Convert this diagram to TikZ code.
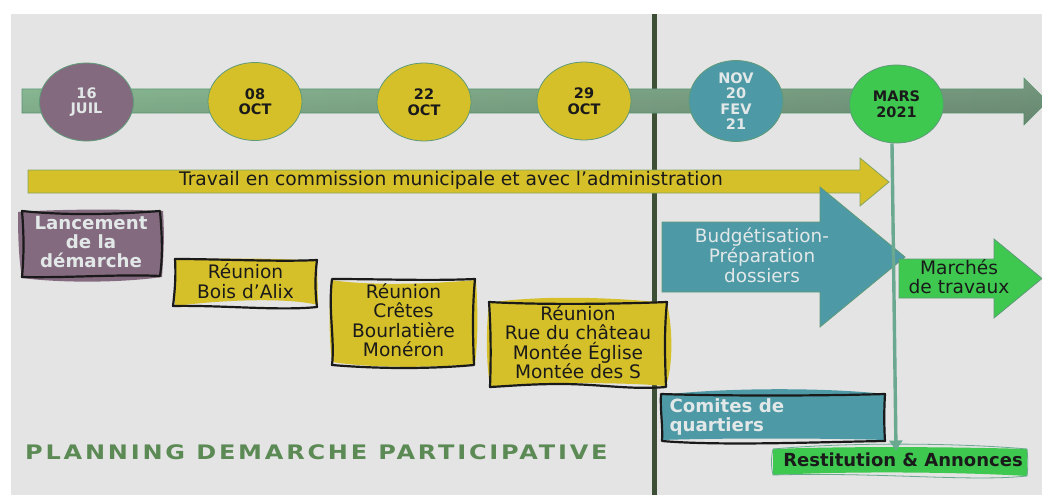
\documentclass[tikz,border=0pt]{standalone}
\usepackage{fontspec}
\setmainfont{DejaVu Sans}
\newfontfamily\titlefont[LetterSpace=14,FakeStretch=1.2]{DejaVu Sans}
\usetikzlibrary{arrows.meta,shapes.geometric,fadings}
\definecolor{bgc}{HTML}{E4E4E4}
\definecolor{mauve}{HTML}{846A7E}
\definecolor{yel}{HTML}{D6C02A}
\definecolor{teal2}{HTML}{4E99A6}
\definecolor{grn}{HTML}{3EC850}
\definecolor{edgec}{HTML}{5F9A78}
\definecolor{darkl}{HTML}{3D4F35}
\definecolor{connc}{HTML}{6AA88F}
\definecolor{lighttxt}{HTML}{E2E8E8}
\definecolor{darktxt}{HTML}{1A1A1A}
\definecolor{titlec}{HTML}{5B8A55}
\definecolor{barl}{HTML}{8CBC96}
\definecolor{barr}{HTML}{76997F}
\tikzset{
  datecirc/.style={ellipse,draw=edgec,line width=0.8pt,minimum width=94pt,minimum height=78pt,inner sep=0pt,align=center,font=\fontsize{14.5}{15.5}\selectfont\bfseries},
  sketch/.style={draw=darktxt,line width=2.2pt,line join=round,fill=none},
  boxtxt/.style={align=center,text=darktxt,font=\fontsize{18.6}{19.5}\selectfont},
  lightbold/.style={align=center,text=lighttxt,font=\fontsize{18.2}{19.2}\selectfont\bfseries},
}
\begin{document}
\begin{tikzpicture}[x=1pt,y=-1pt]
\useasboundingbox (0,0) rectangle (1042,495);
\fill[white] (0,0) rectangle (1042,495);
\fill[bgc] (11,14) rectangle (1042,495);
% divider
\fill[darkl] (652,14) rectangle (657,495);
% timeline
\path[left color=barl,right color=barr,draw=edgec,line width=0.6pt]
  (22,89) -- (1024,89) -- (1024,78) -- (1042,96) -- (1042,107) -- (1024,125) -- (1024,113) -- (22,113) -- cycle;
\fill[black,fill opacity=0.12,path fading=north]
  (22,89) -- (1024,89) -- (1024,78) -- (1042,96) -- (1042,107) -- (1024,125) -- (1024,113) -- (22,113) -- cycle;
% dates
\node[datecirc,fill=mauve,text=lighttxt] (d1) at (86.5,102) {16\\JUIL};
\node[datecirc,fill=yel,text=darktxt] (d2) at (255,101.5) {08\\OCT};
\node[datecirc,fill=yel,text=darktxt] (d3) at (424,102) {22\\OCT};
\node[datecirc,fill=yel,text=darktxt] (d4) at (584,101) {29\\OCT};
\node[datecirc,fill=teal2,text=lighttxt] (d5) at (736,101) {NOV\\20\\FEV\\21};
\node[datecirc,fill=grn,text=darktxt] (mars) at (896.5,104) {MARS\\2021};
% commission arrow
\fill[yel,draw=edgec!70!yel,line width=0.8pt]
  (28,170) -- (860,170) -- (860,158) -- (889,182) -- (860,206) -- (860,193) -- (28,193) -- cycle;
\node[text=darktxt,font=\fontsize{18.7}{19}\selectfont] (travail) at (451,180) {Travail en commission municipale et avec l’administration};
% budget arrow
\fill[teal2,draw=edgec,line width=0.8pt]
  (662,222) -- (820,222) -- (820,187) -- (905,257) -- (820,327) -- (820,292) -- (662,292) -- cycle;
\node[align=center,text=lighttxt,font=\fontsize{18.4}{20}\selectfont] (budget) at (762,255) {Budgétisation-\\Préparation\\dossiers};
% marches arrow
\fill[grn,draw=edgec,line width=0.8pt]
  (899,259) -- (994,259) -- (994,239) -- (1042,278.5) -- (994,318) -- (994,298) -- (899,298) -- cycle;
\node[boxtxt] (marches) at (959,276.5) {Marchés\\de travaux};
% Lancement
\fill[mauve] (18,212) .. controls (60,209) and (120,209) .. (163,211) .. controls (165,240) and (163,260) .. (162,277) .. controls (120,283) and (60,283) .. (22,278) .. controls (19,260) and (18,240) .. (18,212) -- cycle;
\draw[sketch] (22,211) .. controls (70,216) and (120,214) .. (160,211) .. controls (162,235) and (163,255) .. (160,276) .. controls (120,274) and (70,278) .. (22,277) .. controls (24,255) and (24,235) .. (22,211) -- cycle;
\node[lightbold] (lanc) at (91,242) {Lancement\\de la\\démarche};
% Bois
\fill[yel] (175,260) .. controls (220,258) and (280,258) .. (317,261) -- (318,305) .. controls (290,298) and (230,299) .. (175,306) -- cycle;
\draw[sketch] (175,259) .. controls (220,259) and (280,262) .. (317,260) .. controls (315,275) and (315,292) .. (317,307) .. controls (280,311) and (220,305) .. (173,306) .. controls (175,290) and (176,275) .. (175,259) -- cycle;
\node[boxtxt] (bois) at (245.5,281) {Réunion\\Bois d’Alix};
% Cretes
\fill[yel] (331,280) .. controls (370,286) and (430,284) .. (476,280) .. controls (478,310) and (478,340) .. (475,364) .. controls (430,368) and (370,368) .. (332,362) .. controls (329,340) and (329,310) .. (331,280) -- cycle;
\draw[sketch] (332,279) .. controls (380,279) and (430,281) .. (475,279) .. controls (472,310) and (473,340) .. (474,365) .. controls (430,369) and (380,369) .. (332,365) .. controls (335,340) and (328,310) .. (332,279) -- cycle;
\node[boxtxt] (cretes) at (403.5,320) {Réunion\\Crêtes\\Bourlatière\\Monéron};
% Rue
\fill[yel] (489,303) .. controls (530,296) and (600,296) .. (667,303) .. controls (673,330) and (673,365) .. (666,386) .. controls (620,382) and (540,382) .. (490,387) .. controls (486,360) and (486,330) .. (489,303) -- cycle;
\draw[sketch] (489,302) .. controls (540,305) and (620,304) .. (667,302) .. controls (664,330) and (665,360) .. (666,387) .. controls (630,390) and (600,384) .. (560,384) .. controls (530,384) and (510,386) .. (490,387) .. controls (491,360) and (491,330) .. (489,302) -- cycle;
\node[boxtxt] (rue) at (578,342) {Réunion\\Rue du château\\Montée Église\\Montée des S};
% Comites
\fill[teal2] (661,395) .. controls (720,388) and (820,387) .. (885,394) -- (885,440) .. controls (820,438) and (720,438) .. (661,440) -- cycle;
\draw[sketch] (661,394) .. controls (720,396) and (820,396) .. (885,394) .. controls (884,410) and (884,425) .. (885,441) .. controls (820,442) and (720,446) .. (662,441) .. controls (663,425) and (660,410) .. (661,394) -- cycle;
\node[lightbold,align=left,anchor=west] (comites) at (666,417) {Comites de\\quartiers};
% Restitution
\fill[grn] (773,449) .. controls (850,446) and (960,447) .. (1027,449) -- (1027,476) .. controls (960,472) and (850,471) .. (773,475) -- cycle;
\draw[connc,line width=0.8pt] (773,449) .. controls (850,442) and (960,443) .. (1027,449) .. controls (1028,458) and (1028,468) .. (1027,476) .. controls (970,482) and (880,472) .. (773,475) .. controls (771,466) and (771,458) .. (773,449) -- cycle;
\node[text=darktxt,font=\fontsize{18}{18}\selectfont\bfseries] (restit) at (903,460) {Restitution \& Annonces};
% connector
\draw[connc,line width=3.4pt,-{Triangle[length=10pt,width=13pt]}] ([xshift=-4.5pt]mars.south) -- ([xshift=-7pt,yshift=-1pt]restit.north);
% title
\node[anchor=west,inner sep=0pt,text=titlec,font=\titlefont\fontsize{20}{24}\selectfont\bfseries] (title) at (25,452) {PLANNING DEMARCHE PARTICIPATIVE};
\end{tikzpicture}
\end{document}
